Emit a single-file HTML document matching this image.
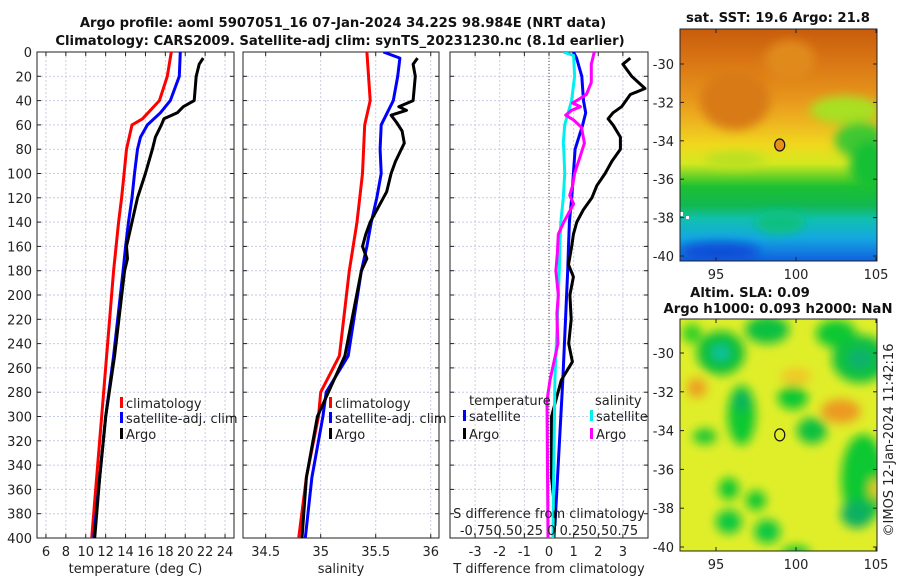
<!DOCTYPE html>
<html><head><meta charset="utf-8"><style>
html,body{margin:0;padding:0;background:#fff;}
svg{display:block;font-family:"DejaVu Sans","Liberation Sans",sans-serif;}
.t{font-size:13px;fill:#222;}
.b{font-weight:bold;font-size:13.2px;fill:#111;}
</style></head><body>
<svg id="chart" width="900" height="580" viewBox="0 0 900 580" xmlns="http://www.w3.org/2000/svg">
<defs>
<linearGradient id="sstGrad" x1="0" y1="0" x2="0" y2="1">
<stop offset="0" stop-color="#c85c0c"/><stop offset="0.13" stop-color="#d87414"/>
<stop offset="0.3" stop-color="#e8961c"/><stop offset="0.4" stop-color="#eeb420"/>
<stop offset="0.5" stop-color="#f0d81e"/><stop offset="0.58" stop-color="#d4e820"/>
<stop offset="0.64" stop-color="#60d028"/><stop offset="0.68" stop-color="#1cc032"/>
<stop offset="0.76" stop-color="#12b850"/><stop offset="0.82" stop-color="#10c0b0"/>
<stop offset="0.9" stop-color="#14a8e0"/><stop offset="1" stop-color="#1060e0"/></linearGradient>
<filter id="blur"><feGaussianBlur stdDeviation="5"/></filter>
<clipPath id="clipTop"><rect x="680" y="29" width="197" height="232"/></clipPath>
<clipPath id="clipBot"><rect x="680" y="319" width="197" height="232"/></clipPath>
<clipPath id="c1"><rect x="37" y="52" width="197" height="486"/></clipPath>
<clipPath id="c2"><rect x="243" y="52" width="196" height="486"/></clipPath>
<clipPath id="c3"><rect x="450" y="52" width="198" height="486"/></clipPath>
</defs>
<text class="b" x="343" y="27" text-anchor="middle">Argo profile: aoml 5907051_16 07-Jan-2024 34.22S 98.984E (NRT data)</text>
<text class="b" x="340" y="45" text-anchor="middle">Climatology: CARS2009. Satellite-adj clim: synTS_20231230.nc (8.1d earlier)</text>
<g id="panels"></g>
<g id="maps"></g>
</svg>
<script>
// ---------- data ----------
const tempDepthClim = [0,20,40,55,60,80,100,120,140,160,180,400];
const tempClim = [18.6,18.2,17.4,15.7,14.65,14.1,13.85,13.6,13.3,13.05,12.8,10.6];
const tempDepthSat = [0,20,40,50,60,70,80,100,120,140,160,180,250,300,350,400];
const tempSat = [19.5,19.4,18.5,17.5,16.2,15.5,15.2,14.9,14.65,14.3,14.0,13.75,12.8,12.0,11.4,10.8];
const tempDepthArgo = [5,10,20,40,45,50,55,60,70,80,100,120,140,160,170,180,250,300,350,400];
const tempArgo = [21.8,21.4,21.1,20.9,19.8,19.2,17.85,17.6,17.0,16.7,16.0,15.2,14.65,14.1,14.2,13.9,12.9,12.0,11.4,10.9];

const salDepthClim = [0,40,60,100,140,180,250,280,300,350,400];
const salClim = [35.42,35.45,35.40,35.38,35.33,35.26,35.17,35.0,34.98,34.87,34.8];
const salDepthSat = [0,5,20,40,60,80,100,120,140,160,180,250,280,300,350,400];
const salSat = [35.57,35.72,35.70,35.66,35.55,35.54,35.55,35.51,35.46,35.42,35.37,35.25,35.05,35.02,34.92,34.86];
const salDepthArgo = [5,10,20,40,45,48,52,58,65,75,90,100,115,130,140,150,160,170,180,250,300,350,400];
const salArgo = [35.88,35.84,35.86,35.84,35.71,35.78,35.64,35.69,35.74,35.76,35.68,35.64,35.60,35.51,35.45,35.41,35.38,35.42,35.37,35.22,34.97,34.87,34.83];

const dTDepthSat = [0,5,20,40,50,60,80,100,120,140,160,180,270,390];
const dTSat = [0.99,1.12,1.33,1.4,1.49,1.37,1.06,0.99,0.92,0.83,0.79,0.76,0.56,0.24];
const dTDepthArgo = [5,10,20,30,35,45,50,55,60,70,80,90,100,110,120,130,140,150,160,175,185,200,220,240,255,270,300,350,380,400];
const dTArgo = [3.3,3.0,3.36,3.9,3.3,2.95,2.6,2.4,2.6,2.9,2.9,2.55,2.28,1.94,1.74,1.39,1.13,0.99,0.92,0.79,0.99,0.85,0.9,0.8,0.95,0.5,0.1,0.1,0.25,0.2];
const dSDepthSat = [0,3,20,40,60,75,80,100,120,140,160,180,270,400];
const dSSat = [0.146,0.25,0.26,0.23,0.16,0.145,0.15,0.16,0.145,0.12,0.11,0.105,0.06,0.04];
const dSDepthArgo = [0,10,25,35,40,42,45,48,52,56,62,75,85,100,110,118,125,140,150,165,180,200,215,240,270,287,400];
const dSArgo = [0.46,0.43,0.43,0.38,0.28,0.24,0.32,0.23,0.17,0.25,0.33,0.36,0.32,0.26,0.24,0.21,0.25,0.15,0.095,0.085,0.07,0.095,0.08,0.09,0.01,-0.02,-0.01];

const depthTicks = [0,20,40,60,80,100,120,140,160,180,200,220,240,260,280,300,320,340,360,380,400];
const tempTicks = [6,8,10,12,14,16,18,20,22,24];
const salTicks = [34.5,35,35.5,36];
const salTickLabels = ["34.5","35","35.5","36"];
const dTTicks = [-3,-2,-1,0,1,2,3];
const latTicks = [-30,-32,-34,-36,-38,-40];
const lonTicks = [95,100,105];
const argoLon = 98.984, argoLat = -34.22;

// ---------- helpers ----------
const NS = "http://www.w3.org/2000/svg";
function mk(tag, attrs, parent){const e=document.createElementNS(NS,tag);for(const k in attrs)e.setAttribute(k,attrs[k]);parent.appendChild(e);return e;}
const yD = d => 52 + d*1.215;
function lin(d0,d1,r0,r1){return v => r0 + (v-d0)*(r1-r0)/(d1-d0);}
const xT = lin(5.1,24.9,37,234);
const xS = lin(34.294,36.075,243,439);
const xdT = lin(-4.02,4.02,450,648);
const xdS = v => 549 + v*98.4;

const panels = document.getElementById('panels');

function drawFrame(x0,x1,vals,xf,labels,xlabelFn,title,leftLabels,name){
  const g = mk('g',{},panels);
  
  
  depthTicks.forEach(d=>{
    const l = mk('line',{x1:x0,x2:x1,y1:yD(d),y2:yD(d),stroke:'#c5cce8','stroke-width':1,'stroke-dasharray':'2,2'},g);
    
    
    mk('line',{x1:x0,x2:x0+4,y1:yD(d),y2:yD(d),stroke:'#222'},g);
    mk('line',{x1:x1-4,x2:x1,y1:yD(d),y2:yD(d),stroke:'#222'},g);
    if(leftLabels){
      const t = mk('text',{x:x0-5,y:yD(d)+5,'text-anchor':'end',class:'t'},g);
      t.textContent = d;
      
      
    }
  });
  vals.forEach((v,i)=>{
    const x = xf(v);
    const l = mk('line',{x1:x,x2:x,y1:52,y2:538,stroke:'#d4c8e0','stroke-width':1,'stroke-dasharray':'2,2'},g);
    
    
    mk('line',{x1:x,x2:x,y1:538,y2:534,stroke:'#222'},g);
    mk('line',{x1:x,x2:x,y1:52,y2:56,stroke:'#222'},g);
    const t = mk('text',{x:x,y:556,'text-anchor':'middle',class:'t'},g);
    t.textContent = labels[i];
    
    
  });
  mk('rect',{x:x0,y:52,width:x1-x0,height:486,fill:'none',stroke:'#222','stroke-width':1},g);
  const tt = mk('text',{x:(x0+x1)/2,y:573,'text-anchor':'middle',class:'t'},g);
  tt.textContent = title;
  
  
  return g;
}
function drawLine(depths,vals,xf,color,clip,name){
  const pts = depths.map((d,i)=>xf(vals[i]).toFixed(1)+','+yD(d).toFixed(1)).join(' ');
  const p = mk('polyline',{points:pts,fill:'none',stroke:color,'stroke-width':3,'stroke-linejoin':'round','clip-path':'url(#'+clip+')'},panels);
  
  
}
function legendEntry(x,y,color,label,name){
  const g = mk('g',{},panels);
  
  
  mk('rect',{x:x,y:y-11,width:3,height:11,fill:color},g);
  const t = mk('text',{x:x+6,y:y,class:'t'},g);
  t.textContent = label;
}

// panel 1
drawFrame(37,234,tempTicks,xT,tempTicks.map(String),null,'temperature (deg C)',true,'temperature-panel');
drawLine(tempDepthClim,tempClim,xT,'#ff0000','c1','temp-climatology-line');
drawLine(tempDepthSat,tempSat,xT,'#0000ff','c1','temp-satellite-line');
drawLine(tempDepthArgo,tempArgo,xT,'#000000','c1','temp-argo-line');
legendEntry(120,408,'#ff0000','climatology','legend-climatology');
legendEntry(120,423,'#0000ff','satellite-adj. clim','legend-satellite');
legendEntry(120,439,'#000000','Argo','legend-argo');

// panel 2
drawFrame(243,439,salTicks,xS,salTickLabels,null,'salinity',false,'salinity-panel');
drawLine(salDepthClim,salClim,xS,'#ff0000','c2','sal-climatology-line');
drawLine(salDepthSat,salSat,xS,'#0000ff','c2','sal-satellite-line');
drawLine(salDepthArgo,salArgo,xS,'#000000','c2','sal-argo-line');
legendEntry(329,408,'#ff0000','climatology','legend-climatology-2');
legendEntry(329,423,'#0000ff','satellite-adj. clim','legend-satellite-2');
legendEntry(329,439,'#000000','Argo','legend-argo-2');

// panel 3
drawFrame(450,648,dTTicks,xdT,dTTicks.map(String),null,'T difference from climatology',false,'difference-panel');
(function(){
  const l = mk('line',{x1:549,x2:549,y1:52,y2:538,stroke:'#444','stroke-width':1,'stroke-dasharray':'1,2'},panels);
  
  
})();
drawLine(dTDepthSat,dTSat,xdT,'#0000ff','c3','dT-satellite-line');
drawLine(dTDepthArgo,dTArgo,xdT,'#000000','c3','dT-argo-line');
drawLine(dSDepthSat,dSSat,xdS,'#00f0f0','c3','dS-satellite-line');
drawLine(dSDepthArgo,dSArgo,xdS,'#ff00ff','c3','dS-argo-line');
(function(){
  const t1 = mk('text',{x:469,y:405,class:'t'},panels); t1.textContent='temperature';
   
  const t2 = mk('text',{x:595,y:405,class:'t'},panels); t2.textContent='salinity';
   
  const t3 = mk('text',{x:549,y:518,'text-anchor':'middle',class:'t'},panels); t3.textContent='S difference from climatology';
   
  const t4 = mk('text',{x:549,y:535,'text-anchor':'middle',class:'t'},panels); t4.textContent='-0.750.50.25 0 0.250.50.75';
   
})();
legendEntry(463,421,'#0000ff','satellite','legend-dT-satellite');
legendEntry(463,439,'#000000','Argo','legend-dT-argo');
legendEntry(590,421,'#00f0f0','satellite','legend-dS-satellite');
legendEntry(590,439,'#ff00ff','Argo','legend-dS-argo');

// ---------- maps ----------
const maps = document.getElementById('maps');
const lonX = lin(95,105,716,876);
function mapAxes(y0,latY,name){
  const g = mk('g',{},maps);
  
  
  mk('rect',{x:680,y:y0,width:197,height:232,fill:'none',stroke:'#222'},g);
  latTicks.forEach(v=>{
    const y = latY(v);
    mk('line',{x1:680,x2:684,y1:y,y2:y,stroke:'#222'},g);
    mk('line',{x1:873,x2:877,y1:y,y2:y,stroke:'#222'},g);
    const t = mk('text',{x:674,y:y+5,'text-anchor':'end',class:'t'},g); t.textContent=v;
  });
  lonTicks.forEach(v=>{
    const x = lonX(v);
    mk('line',{x1:x,x2:x,y1:y0,y2:y0+4,stroke:'#222'},g);
    mk('line',{x1:x,x2:x,y1:y0+228,y2:y0+232,stroke:'#222'},g);
    const t = mk('text',{x:x,y:y0+250,'text-anchor':'middle',class:'t'},g); t.textContent=v;
  });
}
// top SST map
const latTop = lin(-30,-40,64,256);
(function(){
  const g = mk('g',{'clip-path':'url(#clipTop)'},maps);
   
  mk('rect',{x:680,y:29,width:197,height:232,fill:'url(#sstGrad)'},g);
  const bl = mk('g',{filter:'url(#blur)'},g);
  mk('ellipse',{cx:845,cy:110,rx:35,ry:14,fill:'#a8e020'},bl);
  mk('ellipse',{cx:860,cy:140,rx:25,ry:18,fill:'#40c830'},bl);
  mk('ellipse',{cx:870,cy:165,rx:20,ry:25,fill:'#18c034'},bl);
  mk('ellipse',{cx:735,cy:100,rx:35,ry:30,fill:'#d87a16'},bl);
  mk('ellipse',{cx:790,cy:60,rx:25,ry:20,fill:'#e08a1a'},bl);
  mk('ellipse',{cx:735,cy:160,rx:30,ry:8,fill:'#b8e020'},bl);
  mk('ellipse',{cx:780,cy:222,rx:25,ry:12,fill:'#10c080'},bl);
  mk('ellipse',{cx:720,cy:252,rx:40,ry:10,fill:'#0850d8'},bl);
  mk('rect',{x:680,y:212,width:3,height:4,fill:'#fff'},g);
  mk('rect',{x:686,y:216,width:3,height:3,fill:'#fff'},g);
  const m = mk('ellipse',{cx:lonX(argoLon),cy:latTop(argoLat),rx:5,ry:6,fill:'#e8901c',stroke:'#111','stroke-width':1.2},maps);
   
})();
mapAxes(29,latTop,'sst-map');
(function(){const t=mk('text',{x:778,y:22,'text-anchor':'middle',class:'b'},maps);t.textContent='sat. SST: 19.6 Argo: 21.8';
})();

// bottom SLA map
const latBot = lin(-30,-40,353,547);
(function(){
  const g = mk('g',{'clip-path':'url(#clipBot)'},maps);
   
  mk('rect',{x:680,y:319,width:197,height:232,fill:'#e0ee2a'},g);
  const bl = mk('g',{filter:'url(#blur)'},g);
  const blobs = [[95.3,-30,24,22,'#10c038'],[95.3,-30,9,8,'#10c0a0'],[98.2,-28.8,22,14,'#10c040'],[102.5,-29,20,14,'#10c830'],[104,-30.3,28,24,'#10c040'],[104,-30.3,12,10,'#10b070'],
    [96.6,-33.2,14,30,'#10c830'],[96.6,-32.5,7,10,'#10b060'],[99.8,-32.3,15,12,'#10c830'],[101,-34,15,13,'#10c040'],[94.3,-34.3,12,8,'#20c830'],
    [104.2,-36.5,22,45,'#10c830'],[95.8,-37,10,11,'#10c830'],[97.5,-37.6,10,10,'#10c830'],[95.8,-38.7,13,12,'#10c840'],
    [98.2,-39.2,13,12,'#10c840'],[103.8,-38.3,16,14,'#10b060'],[100,-40.3,14,7,'#10c830'],[93.5,-29,10,10,'#30d028'],
    [102.8,-33,20,12,'#ec9a20'],[93.8,-31.8,10,10,'#eca020'],[100,-31.2,16,8,'#f0c828'],[105,-37,6,10,'#f0c828']];
  blobs.forEach(b=>mk('ellipse',{cx:lonX(b[0]),cy:latBot(b[1]),rx:b[2],ry:b[3],fill:b[4]},bl));
  const m = mk('ellipse',{cx:lonX(argoLon),cy:latBot(argoLat),rx:5,ry:6,fill:'none',stroke:'#111','stroke-width':1.2},maps);
   
})();
mapAxes(319,latBot,'sla-map');
(function(){
  const t=mk('text',{x:750,y:297,'text-anchor':'middle',class:'b'},maps);t.textContent='Altim. SLA: 0.09';
  
  const t2=mk('text',{x:778,y:313,'text-anchor':'middle',class:'b'},maps);t2.textContent='Argo h1000: 0.093 h2000: NaN';
  
  const t3=mk('text',{x:0,y:0,'text-anchor':'middle',class:'t',transform:'translate(893,440) rotate(-90)'},maps);t3.textContent='©IMOS 12-Jan-2024 11:42:16';
  
})();
</script>
</body></html>
